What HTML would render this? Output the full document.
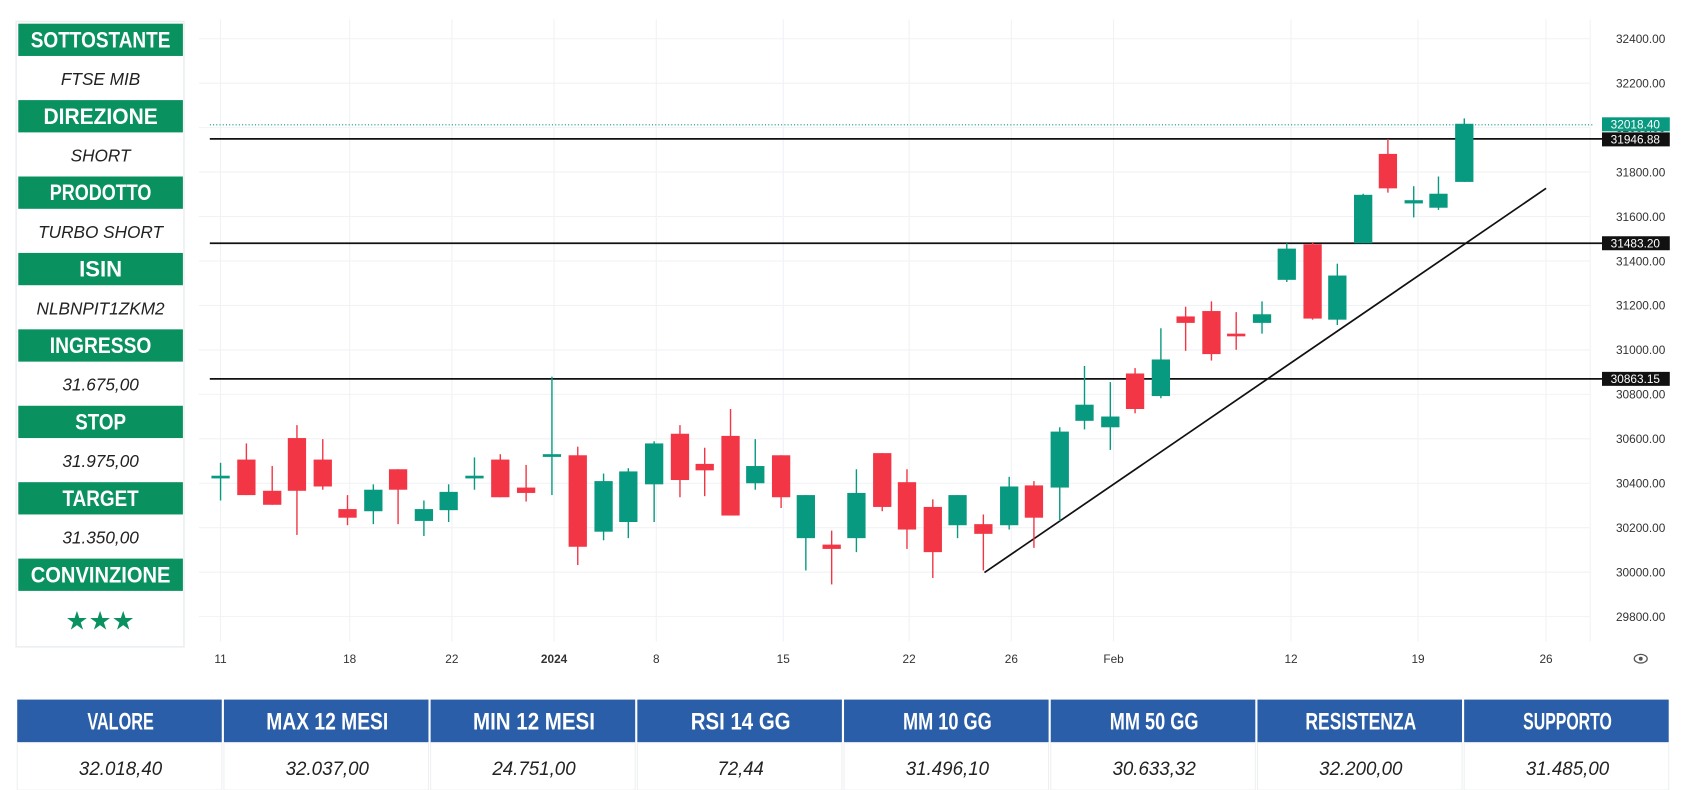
<!DOCTYPE html>
<html><head><meta charset="utf-8"><style>
html,body{margin:0;padding:0;background:#fff;overflow:hidden}
svg{display:block}
</style></head><body>
<svg id="s" width="1687" height="790" viewBox="0 0 1568 734" preserveAspectRatio="none" xmlns="http://www.w3.org/2000/svg" font-family="'Liberation Sans Narrow','Liberation Sans',sans-serif">
<rect width="1568" height="734" fill="#fff"/>
<g id="grid" stroke="#f0f2f5" stroke-width="1"></g>
<g id="panel"></g>
<g id="lines"></g>
<g id="candles"></g>
<g id="axis" font-size="11" fill="#333"></g>
<g id="labels"></g>
<g id="table"></g>
</svg>
<script>
const NS="http://www.w3.org/2000/svg";
function el(p,t,a,txt){const e=document.createElementNS(NS,t);for(const k in a)e.setAttribute(k,a[k]);if(txt!=null)e.textContent=txt;document.getElementById(p).appendChild(e);return e;}
const Y=p=>36+(32400-p)/200*41.3;
for(let p=29800;p<=32400;p+=200){const y=Y(p);el('grid','line',{x1:185,x2:1478,y1:y,y2:y});el('axis','text',{x:1502,y:y+4},p.toFixed(2));}
const xl=[[205,'11'],[325,'18'],[420,'22'],[515,'2024'],[610,'8'],[728,'15'],[845,'22'],[940,'26'],[1035,'Feb'],[1200,'12'],[1318,'19'],[1437,'26']];
xl.forEach(([x,t])=>{el('grid','line',{x1:x,x2:x,y1:18,y2:596});el('axis','text',{x:x,y:616,'text-anchor':'middle','font-weight':t=='2024'?'bold':'normal'},t);});
el('grid','line',{x1:1478,x2:1478,y1:18,y2:596});
el('axis','ellipse',{cx:1525,cy:612,rx:6,ry:4,fill:'none',stroke:'#555','stroke-width':1.2});
el('axis','circle',{cx:1525,cy:612,r:1.8,fill:'#555'});
el('lines','line',{x1:195,x2:1482,y1:116,y2:116,stroke:'#089981','stroke-width':1,'stroke-dasharray':'1 2'});
[129,226,352].forEach(y=>el('lines','line',{x1:195,x2:1490,y1:y,y2:y,stroke:'#111','stroke-width':1.6}));
el('lines','line',{x1:915,y1:532,x2:1437,y2:175,stroke:'#111','stroke-width':1.6});
[[115.5,'32018.40','#089981'],[129.5,'31946.88','#111'],[226,'31483.20','#111'],[352,'30863.15','#111']].forEach(([y,t,c])=>{
 el('labels','rect',{x:1489,y:y-6.5,width:63,height:13,fill:c});
 el('labels','text',{x:1520,y:y+4,'text-anchor':'middle','font-size':11,fill:'#fff','font-family':"'Liberation Sans',sans-serif"},t);});
const C=[[205,'g',442,444,430,465],[229,'r',427,460,412,460],[253,'r',456,469,433,469],[276,'r',407,456,395,497],[300,'r',427,452,408,455],
[323,'r',473,481,460,488],[347,'g',455,475,450,487],[370,'r',436,455,436,487],[394,'g',473,484,465,498],[417,'g',457,474,450,485],
[441,'g',442,444,425,455],[465,'r',427,462,422,462],[489,'r',453,458,432,466],[513,'g',422,424,350,460],[537,'r',423,508,415,525],
[561,'g',447,494,440,502],[584,'g',438,485,435,500],[608,'g',412,450,410,485],[632,'r',403,446,395,462],[655,'r',431,437,416,461],
[679,'r',405,479,380,479],[702,'g',433,449,408,455],[726,'r',423,462,423,472],[749,'g',460,500,460,530],[773,'r',506,510,493,543],
[796,'g',458,500,436,513],[820,'r',421,471,421,475],[843,'r',448,492,436,510],[867,'r',471,513,464,537],[890,'g',460,488,460,500],
[914,'r',487,496,478,530],[938,'g',452,488,443,492],[961,'r',451,481,447,509],[985,'g',401,453,397,484],[1008,'g',376,391,340,399],
[1032,'g',387,397,355,418],[1055,'r',347,380,342,384],[1079,'g',334,368,305,370],[1102,'r',294,300,285,326],[1126,'r',289,329,280,335],
[1149,'r',310,312,290,325],[1173,'g',292,300,280,310],[1196,'g',231,260,226,262],[1220,'r',227,296,225,297],[1243,'g',256,297,245,302],
[1267,'g',181,226,180,226],[1290,'r',143,175,129,179],[1314,'g',186,189,173,202],[1337,'g',180,193,164,195],[1361,'g',115,169,110,169]];
C.forEach(([x,c,bt,bb,wt,wb])=>{const col=c=='g'?'#089981':'#f23645';
 el('candles','line',{x1:x,x2:x,y1:wt,y2:wb,stroke:col,'stroke-width':1.3});
 el('candles','rect',{x:x-8.5,y:bt,width:17,height:Math.max(bb-bt,2.5),fill:col});});
el('panel','rect',{x:15,y:20,width:156,height:581,fill:'#fff',stroke:'#eceff1','stroke-width':1.5});
const L=[['SOTTOSTANTE','FTSE MIB'],['DIREZIONE','SHORT'],['PRODOTTO','TURBO SHORT'],['ISIN','NLBNPIT1ZKM2'],['INGRESSO','31.675,00'],['STOP','31.975,00'],['TARGET','31.350,00'],['CONVINZIONE','★★★']];
L.forEach(([h,v],i)=>{const y=22+i*71;
 el('panel','rect',{x:17,y:y,width:153,height:30,fill:'#0a9160'});
 el('panel','text',{x:93.5,y:y+22,'text-anchor':'middle','font-size':21,'font-weight':'bold',fill:'#fff',textLength:h=='ISIN'?40:Math.min(h.length*11.8,138),lengthAdjust:'spacingAndGlyphs'},h);
 if(v=='★★★') el('panel','text',{x:93,y:y+66,'text-anchor':'middle','font-size':24,fill:'#0a9160','font-family':"'DejaVu Sans',sans-serif"},v);
 else el('panel','text',{x:93.5,y:y+57,'text-anchor':'middle','font-size':16,'font-style':'italic',fill:'#222','font-family':"'Liberation Sans',sans-serif"},v);});
const H=['VALORE','MAX 12 MESI','MIN 12 MESI','RSI 14 GG','MM 10 GG','MM 50 GG','RESISTENZA','SUPPORTO'];
const V=['32.018,40','32.037,00','24.751,00','72,44','31.496,10','30.633,32','32.200,00','31.485,00'];
const w=(1553-16)/8;
H.forEach((h,i)=>{const x=16+i*w;
 el('table','rect',{x:x,y:650,width:w-2,height:40,fill:'#2a5ea8'});
 el('table','text',{x:x+w/2,y:678,'text-anchor':'middle','font-size':22,'font-weight':'bold',fill:'#fff',textLength:h.length*10.3,lengthAdjust:'spacingAndGlyphs'},h);
 el('table','rect',{x:x,y:690,width:w-2,height:44,fill:'#fff',stroke:'#eef0f2','stroke-width':1});
 el('table','text',{x:x+w/2,y:720,'text-anchor':'middle','font-size':18,'font-style':'italic',fill:'#222',textLength:V[i].length*8.6,lengthAdjust:'spacingAndGlyphs','font-family':"'Liberation Sans',sans-serif"},V[i]);});
</script>
</body></html>
